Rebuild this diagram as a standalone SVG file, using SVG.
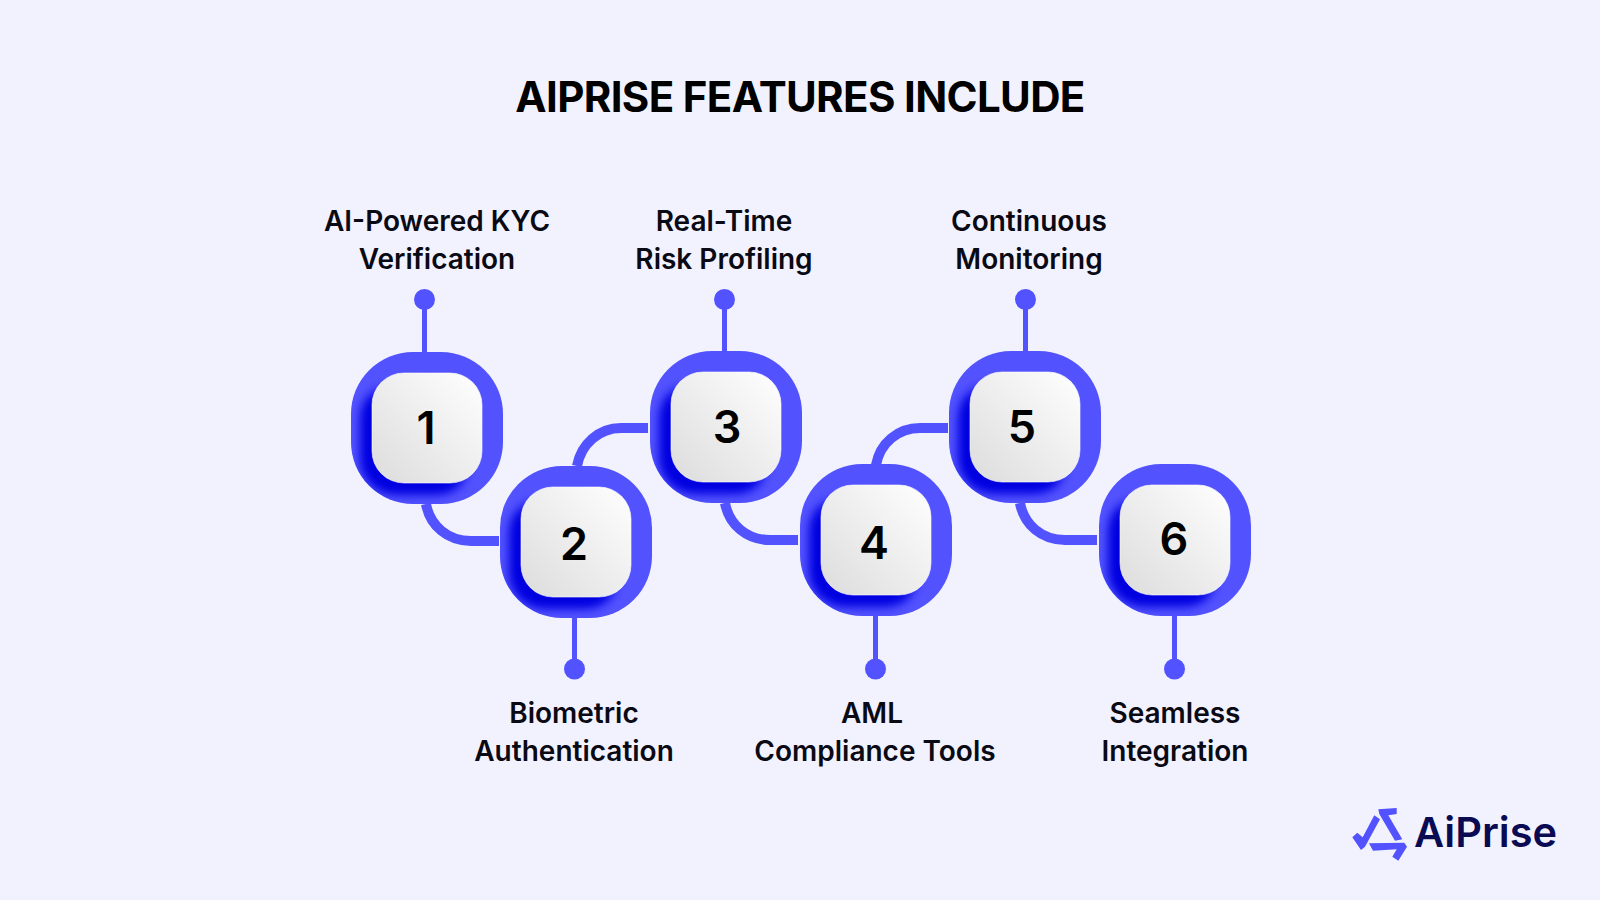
<svg xmlns="http://www.w3.org/2000/svg" width="1600" height="900" viewBox="0 0 1600 900">
<style>
text{font-family:Inter,"Noto Sans","Liberation Sans",sans-serif;fill:#000}
.t{font-size:42px;font-weight:700;text-anchor:middle;letter-spacing:-.65px}
.l{font-size:28px;font-weight:600;text-anchor:middle;fill:#0a0a14}
.n{font-size:45px;font-weight:600;text-anchor:middle}
.c{fill:none;stroke:#5252ff;stroke-width:10}
.s{fill:none;stroke:#5252ff;stroke-width:5}
.d{fill:#5252ff}
.o{fill:#5252ff}
.i{fill:url(#g);stroke:#fff;stroke-opacity:.6;stroke-width:1}
.lg{font-size:41.500px;font-weight:600;fill:#0b0b54}
</style>
<defs>
<linearGradient id="g" x1="0" y1="1" x2="1" y2="0"><stop offset="0" stop-color="#dcdcdc"/><stop offset="1" stop-color="#fff"/></linearGradient>
<linearGradient id="sf" x1="1" y1="0" x2="0" y2="1"><stop offset=".38" stop-color="#0000e0" stop-opacity="0"/><stop offset=".52" stop-color="#0000e0"/></linearGradient>
<filter id="b" x="-30%" y="-30%" width="160%" height="160%"><feGaussianBlur stdDeviation="5"/></filter>
<clipPath id="co"><rect width="152" height="152" rx="62"/></clipPath>
<g id="node">
<rect class="o" width="152" height="152" rx="62"/>
<g clip-path="url(#co)"><rect x="9" y="31" width="112" height="112" rx="36" fill="url(#sf)" filter="url(#b)"/></g>
<rect class="i" x="21" y="21" width="110" height="110" rx="32"/>
</g>
</defs>
<rect width="1600" height="900" fill="#f2f2ff"/>
<text class="t" x="800" y="112">AIPRISE FEATURES INCLUDE</text>
<g id="connectors">
<path class="s" d="M424.500 300V352"/>
<path class="c" d="M426 504C430 526 448 541 471 541H499"/>
<path class="c" d="M577 466C581 444 599 428 621 428H648"/>
<path class="s" d="M574.500 618V669"/>
<path class="s" d="M724.500 300V351"/>
<path class="c" d="M725 503C729 525 747 540 770 540H798"/>
<path class="c" d="M876 465C880 443 898 428 920 428H948"/>
<path class="s" d="M875.500 616V669"/>
<path class="s" d="M1025.500 300V351"/>
<path class="c" d="M1020 503C1024 525 1042 540 1065 540H1097"/>
<path class="s" d="M1174.500 616V669"/>
<circle class="d" cx="424.500" cy="299.500" r="10.500"/>
<circle class="d" cx="574.500" cy="669" r="10.500"/>
<circle class="d" cx="724.500" cy="299.500" r="10.500"/>
<circle class="d" cx="875.500" cy="669" r="10.500"/>
<circle class="d" cx="1025.500" cy="299.500" r="10.500"/>
<circle class="d" cx="1174.500" cy="669" r="10.500"/>
</g>
<g id="node1"><use href="#node" x="351" y="352"/><text class="n" x="426" y="444">1</text><text class="l" x="437" y="231">AI-Powered KYC</text><text class="l" x="437" y="269">Verification</text></g>
<g id="node2"><use href="#node" x="500" y="466"/><text class="n" x="574" y="560">2</text><text class="l" x="574" y="723">Biometric</text><text class="l" x="574" y="761">Authentication</text></g>
<g id="node3"><use href="#node" x="650" y="351"/><text class="n" x="727" y="443">3</text><text class="l" x="724" y="231">Real-Time</text><text class="l" x="724" y="269">Risk Profiling</text></g>
<g id="node4"><use href="#node" x="800" y="464"/><text class="n" x="874" y="559">4</text><text class="l" x="872" y="723">AML</text><text class="l" x="875" y="761">Compliance Tools</text></g>
<g id="node5"><use href="#node" x="949" y="351"/><text class="n" x="1022" y="443">5</text><text class="l" x="1029" y="231">Continuous</text><text class="l" x="1029" y="269">Monitoring</text></g>
<g id="node6"><use href="#node" x="1099" y="464"/><text class="n" x="1174" y="555">6</text><text class="l" x="1175" y="723">Seamless</text><text class="l" x="1175" y="761">Integration</text></g>
<g id="logo">
<path fill="#5252ff" d="M1352.300 837.300L1357.300 832.700L1362.700 837.300L1374.300 815.300L1380 819.300L1365 846.700L1361 850Z M1378.300 809.300L1396.700 808V814L1388.300 815.300L1402.300 839.300L1395 840.700L1379.300 814Z M1369 843.300L1404.300 842.700L1407 846.700L1398.300 860.700L1392.300 856.700L1396.700 849.300L1373 850.700Z"/>
<text class="lg" x="1414" y="846.500">AiPrise</text>
</g>
</svg>
